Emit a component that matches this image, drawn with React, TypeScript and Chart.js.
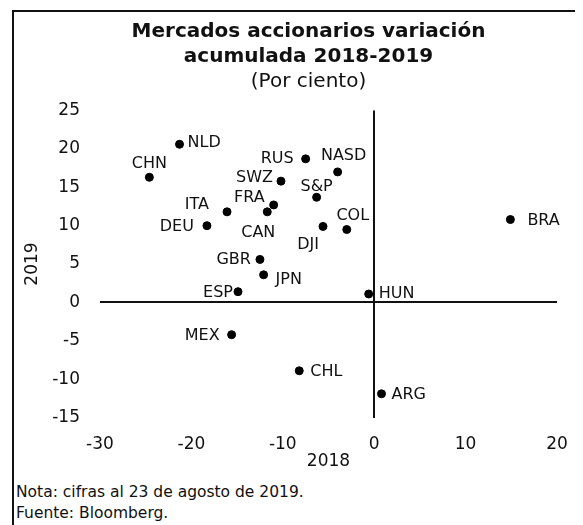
import React, { useEffect, useRef } from 'react';
import { Chart, registerables } from 'chart.js';

Chart.register(...registerables);

// ---- Data ----
const countries = ['NLD', 'CHN', 'RUS', 'NASD', 'SWZ', 'S&P', 'FRA', 'ITA', 'CAN', 'DEU', 'DJI', 'COL', 'GBR', 'JPN', 'ESP', 'HUN', 'CHL', 'ARG', 'MEX', 'BRA'];
const var2018 = [-21.3, -24.6, -7.5, -4.0, -10.2, -6.3, -11.0, -16.1, -11.7, -18.3, -5.6, -3.0, -12.5, -12.1, -14.9, -0.6, -8.2, 0.8, -15.6, 14.9];
const var2019 = [20.6, 16.3, 18.7, 17.0, 15.8, 13.7, 12.7, 11.8, 11.8, 10.0, 9.9, 9.5, 5.6, 3.6, 1.4, 1.1, -8.9, -11.9, -4.2, 10.8];
const xTickValues = [-30, -20, -10, 0, 10, 20];
const yTickValues = [-15, -10, -5, 0, 5, 10, 15, 20, 25];

const titleLines = ['Mercados accionarios variación', 'acumulada 2018-2019'];
const subtitleText = '(Por ciento)';
const xTitle = '2018';
const yTitle = '2019';
const footNotes = ['Nota: cifras al 23 de agosto de 2019.', 'Fuente: Bloomberg.'];

// ---- Label placement (style): [textAlign, dx, dy] relative to the point ----
const labelPlacement: [CanvasTextAlign, number, number][] = [
  ['left', 8, -1],     // NLD
  ['center', 0, -13],  // CHN
  ['right', -12, 0],   // RUS
  ['center', 6, -16],  // NASD
  ['right', -8, -3],   // SWZ
  ['center', 0, -10],  // S&P
  ['right', -9, -7],   // FRA
  ['right', -18, -7],  // ITA
  ['center', -9, 21],  // CAN
  ['right', -13, 1],   // DEU
  ['center', -15, 18], // DJI
  ['center', 6, -14],  // COL
  ['right', -9, 0],    // GBR
  ['left', 12, 5],     // JPN
  ['right', -5, 1],    // ESP
  ['left', 10, 0],     // HUN
  ['left', 11, 1],     // CHL
  ['left', 10, 1],     // ARG
  ['right', -12, 1],   // MEX
  ['left', 17, 1],     // BRA
];

const FONT = '"DejaVu Sans", sans-serif';

const pointLabels = {
  id: 'pointLabels',
  afterDatasetsDraw(chart: any) {
    const ctx = chart.ctx;
    const meta = chart.getDatasetMeta(0);
    ctx.save();
    ctx.font = `16px ${FONT}`;
    ctx.fillStyle = '#111';
    ctx.textBaseline = 'middle';
    meta.data.forEach((pt: any, i: number) => {
      const [align, dx, dy] = labelPlacement[i];
      ctx.textAlign = align;
      ctx.fillText(countries[i], pt.x + dx, pt.y + dy);
    });
    ctx.restore();
  },
};

const zeroLineColor = (c: any) => (c.tick && c.tick.value === 0 ? '#111' : 'rgba(0,0,0,0)');
const zeroLineWidth = (c: any) => (c.tick && c.tick.value === 0 ? 2 : 0);

export default function App() {
  const canvasRef = useRef<HTMLCanvasElement | null>(null);

  useEffect(() => {
    if (!canvasRef.current) return;
    const chart = new Chart(canvasRef.current, {
      type: 'scatter',
      data: {
        datasets: [
          {
            data: var2018.map((x, i) => ({ x, y: var2019[i] })),
            backgroundColor: '#000',
            borderColor: '#000',
            pointRadius: 4,
            pointHoverRadius: 4,
          },
        ],
      },
      plugins: [pointLabels],
      options: {
        responsive: false,
        animation: false,
        devicePixelRatio: 1,
        layout: { padding: { left: 0, right: 0, top: 0, bottom: 10 } },
        plugins: {
          legend: { display: false },
          tooltip: { enabled: false },
          title: {
            display: true,
            text: titleLines,
            color: '#111',
            font: { family: FONT, size: 20, weight: 'bold', lineHeight: 1.25 },
            padding: { top: 7.5, bottom: 0 },
          },
          subtitle: {
            display: true,
            text: subtitleText,
            color: '#111',
            font: { family: FONT, size: 20, weight: 'normal', lineHeight: 1.25 },
            padding: { top: 0, bottom: 16 },
          },
        },
        scales: {
          x: {
            type: 'linear',
            min: -30,
            max: 20,
            afterBuildTicks: (s: any) => {
              s.ticks = xTickValues.map((v) => ({ value: v }));
            },
            border: { display: false },
            grid: { drawTicks: false, color: zeroLineColor, lineWidth: zeroLineWidth },
            ticks: {
              color: '#111',
              padding: 18,
              maxRotation: 0,
              font: { family: FONT, size: 17, lineHeight: 1 },
            },
            title: {
              display: true,
              text: xTitle,
              color: '#111',
              padding: { top: -19, bottom: 0 },
              font: { family: FONT, size: 17, lineHeight: 1.2 },
            },
          },
          y: {
            type: 'linear',
            min: -15,
            max: 25,
            afterBuildTicks: (s: any) => {
              s.ticks = yTickValues.map((v) => ({ value: v }));
            },
            afterFit: (s: any) => {
              s.width = 86;
            },
            border: { display: false },
            grid: { drawTicks: false, color: zeroLineColor, lineWidth: zeroLineWidth },
            ticks: {
              color: '#111',
              padding: 20,
              font: { family: FONT, size: 17, lineHeight: 1.2 },
            },
            title: {
              display: true,
              text: yTitle,
              color: '#111',
              padding: { top: 8, bottom: 0 },
              font: { family: FONT, size: 17, lineHeight: 1.2 },
            },
          },
          rightSpace: {
            type: 'linear',
            position: 'right',
            display: true,
            grid: { display: false, drawTicks: false },
            border: { display: false },
            ticks: { display: false },
            afterFit: (s: any) => {
              s.width = 46;
            },
          },
        },
      },
    } as any);
    return () => chart.destroy();
  }, []);

  return (
    <div
      style={{
        marginLeft: 4,
        marginTop: 2,
        width: 569,
        height: 513,
        borderTop: '2px solid #111',
        borderLeft: '2px solid #111',
        overflow: 'hidden',
        fontFamily: FONT,
        color: '#111',
      }}
    >
      <div style={{ width: 589, height: 470 }}>
        <canvas ref={canvasRef} width={589} height={470} style={{ display: 'block' }} />
      </div>
      <div style={{ marginTop: 0, paddingLeft: 2, fontSize: 15.5, lineHeight: '20.5px' }}>
        {footNotes.map((t) => (
          <div key={t}>{t}</div>
        ))}
      </div>
    </div>
  );
}
